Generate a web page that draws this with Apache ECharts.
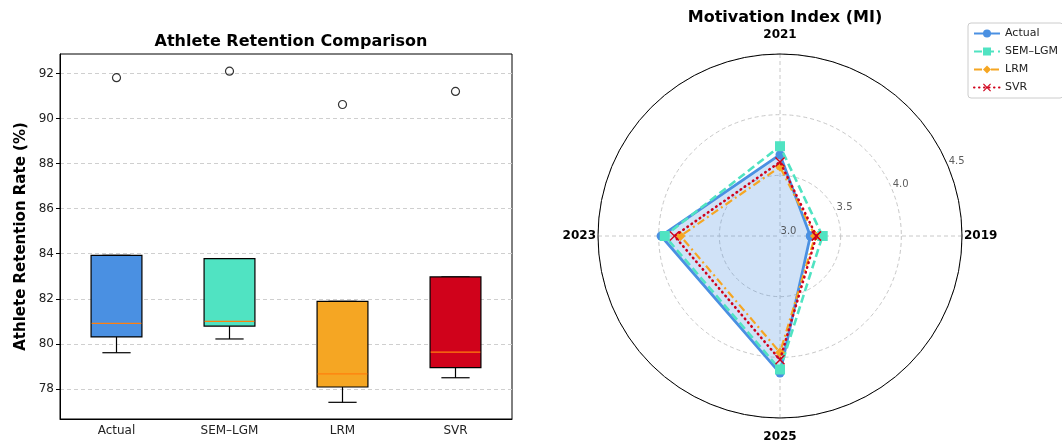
<!DOCTYPE html>
<html>
<head>
<meta charset="utf-8">
<script src="https://cdn.jsdelivr.net/npm/echarts@6/dist/echarts.min.js"></script>
<style>html,body{margin:0;padding:0;background:#fff;}#c{width:1062px;height:445px;}</style>
</head>
<body>
<div id="c"></div>
<script>
// ---- Box plot data (Athlete Retention Rate %) ----
const categories = ['Actual', 'SEM–LGM', 'LRM', 'SVR'];
const whiskerLow = [79.61, 80.22, 77.41, 78.50];
const q1 = [80.31, 80.79, 78.09, 78.95];
const median = [80.91, 81.00, 78.67, 79.64];
const q3 = [83.93, 83.78, 81.89, 82.97];
const whiskerHigh = [83.93, 83.78, 81.89, 82.97];
const outliers = [91.81, 92.10, 90.62, 91.20];
const yTicks = [78, 80, 82, 84, 86, 88, 90, 92];

// ---- Radar data (Motivation Index) ----
const years = ['2019', '2021', '2023', '2025'];
const actualMI = [3.25, 3.67, 3.98, 4.13];
const semMI = [3.35, 3.74, 3.95, 4.10];
const lrmMI = [3.29, 3.57, 3.82, 3.96];
const svrMI = [3.30, 3.61, 3.87, 4.02];
const rTicks = [3.0, 3.5, 4.0, 4.5];
const rTickLabels = ['3.0', '3.5', '4.0', '4.5'];

const boxColors = ['#4a90e2', '#50e3c2', '#f5a623', '#d0021b'];
const FONT = 'DejaVu Sans';
const STEP = 360 / years.length;

const chart = echarts.init(document.getElementById('c'), null, {renderer: 'canvas'});

const boxData = categories.map((c, i) => [i, whiskerLow[i], q1[i], median[i], q3[i], whiskerHigh[i]]);
const outlierData = categories.map((c, i) => [i, outliers[i]]);

function closed(arr) {
  const pts = arr.map((v, i) => [v, i * STEP]);
  pts.push([arr[0], 360]);
  return pts;
}

const xSymbol = 'path://M1,0 L5,4 L9,0 L10,1 L6,5 L10,9 L9,10 L5,6 L1,10 L0,9 L4,5 L0,1 Z';

const option = {
  animation: false,
  backgroundColor: '#fff',
  textStyle: {fontFamily: FONT},
  title: [
    {text: 'Athlete Retention Comparison', left: 286, top: 29, textAlign: 'center',
     textStyle: {fontFamily: FONT, fontSize: 16, fontWeight: 'bold', color: '#000'}},
    {text: 'Motivation Index (MI)', left: 780, top: 5, textAlign: 'center',
     textStyle: {fontFamily: FONT, fontSize: 16, fontWeight: 'bold', color: '#000'}}
  ],
  grid: {left: 60, top: 54, width: 452, height: 365, show: true, borderColor: '#000', borderWidth: 1, containLabel: false},
  xAxis: {
    type: 'category', data: categories, boundaryGap: true,
    axisLine: {lineStyle: {color: '#000', width: 1}},
    axisTick: {alignWithLabel: true, length: 4, lineStyle: {color: '#000'}},
    axisLabel: {fontFamily: FONT, fontSize: 12, color: '#222', margin: 6},
    splitLine: {show: false}
  },
  yAxis: {
    type: 'value', min: 76.67, max: 92.86, splitNumber: 8, minInterval: 2, maxInterval: 2,
    name: 'Athlete Retention Rate (%)', nameLocation: 'middle', nameGap: 31,
    nameTextStyle: {fontFamily: FONT, fontSize: 15, fontWeight: 'bold', color: '#000'},
    axisLine: {show: true, lineStyle: {color: '#000', width: 1}},
    axisTick: {show: true, length: 4, customValues: yTicks, lineStyle: {color: '#000'}},
    axisLabel: {fontFamily: FONT, fontSize: 12, color: '#222', margin: 6, customValues: yTicks},
    splitLine: {show: true, lineStyle: {type: [4, 3], color: '#cfcfcf', width: 1}}
  },
  polar: [
    {center: [780, 236], radius: 182},
    {center: [780, 236], radius: 182}
  ],
  angleAxis: [
    {polarIndex: 0, type: 'value', min: 0, max: 360, interval: STEP, startAngle: 0, clockwise: false,
     axisLine: {show: true, lineStyle: {color: '#000', width: 1}},
     axisTick: {show: false},
     axisLabel: {
       margin: 2,
       formatter: function (v) {
         const i = Math.round(v / STEP);
         if (i >= years.length) return '';
         return (i % 2 === 1) ? '{tb|' + years[i] + '}' : '{lr|' + years[i] + '}';
       },
       rich: {
         lr: {fontFamily: FONT, fontSize: 12, fontWeight: 'bold', color: '#000'},
         tb: {fontFamily: FONT, fontSize: 12, fontWeight: 'bold', color: '#000', padding: [11, 0, 11, 0]}
       }
     },
     splitLine: {show: true, lineStyle: {type: [4, 3], color: '#c8c8c8', width: 1}}},
    {polarIndex: 1, type: 'value', min: 0, max: 360, startAngle: 0, clockwise: false, show: false}
  ],
  radiusAxis: [
    {polarIndex: 0, type: 'value', min: 3, max: 4.5, interval: 0.5,
     axisLine: {show: false}, axisTick: {show: false}, axisLabel: {show: false},
     splitLine: {show: true, lineStyle: {type: [4, 3], color: '#c8c8c8', width: 1}}},
    {polarIndex: 1, type: 'value', min: 3, max: 4.5, show: false}
  ],
  legend: {
    data: ['Actual', 'SEM–LGM', 'LRM', 'SVR'],
    orient: 'vertical', left: 968, top: 23,
    itemWidth: 26, itemHeight: 10, itemGap: 5,
    padding: [4, 5, 4, 5],
    backgroundColor: '#fff', borderColor: '#cccccc', borderWidth: 1, borderRadius: 3,
    textStyle: {fontFamily: FONT, fontSize: 11, color: '#222', lineHeight: 13}
  },
  series: [
    {
      name: 'Retention', type: 'custom', xAxisIndex: 0, yAxisIndex: 0,
      encode: {x: 0, y: [1, 2, 3, 4, 5]},
      data: boxData,
      z: 3,
      renderItem: function (params, api) {
        const i = api.value(0);
        const pLow = api.coord([i, api.value(1)]);
        const pQ1 = api.coord([i, api.value(2)]);
        const pMed = api.coord([i, api.value(3)]);
        const pQ3 = api.coord([i, api.value(4)]);
        const pHigh = api.coord([i, api.value(5)]);
        const band = api.size([1, 0])[0];
        const bw = band * 0.45, cw = band * 0.25;
        const cx = pQ1[0];
        const ls = {stroke: '#000', lineWidth: 1.2};
        return {type: 'group', children: [
          {type: 'line', shape: {x1: cx, y1: pQ1[1], x2: cx, y2: pLow[1]}, style: ls},
          {type: 'line', shape: {x1: cx, y1: pQ3[1], x2: cx, y2: pHigh[1]}, style: ls},
          {type: 'line', shape: {x1: cx - cw / 2, y1: pLow[1], x2: cx + cw / 2, y2: pLow[1]}, style: ls},
          {type: 'line', shape: {x1: cx - cw / 2, y1: pHigh[1], x2: cx + cw / 2, y2: pHigh[1]}, style: ls},
          {type: 'rect', shape: {x: cx - bw / 2, y: pQ3[1], width: bw, height: pQ1[1] - pQ3[1]},
           style: {fill: boxColors[params.dataIndex], stroke: '#000', lineWidth: 1.2}},
          {type: 'line', shape: {x1: cx - bw / 2 + 0.6, y1: pMed[1], x2: cx + bw / 2 - 0.6, y2: pMed[1]},
           style: {stroke: '#ff7f0e', lineWidth: 1.2}}
        ]};
      }
    },
    {
      name: 'Outliers', type: 'scatter', xAxisIndex: 0, yAxisIndex: 0,
      data: outlierData, symbol: 'circle', symbolSize: 8, z: 4,
      itemStyle: {color: 'rgba(255,255,255,0)', borderColor: '#000', borderWidth: 1.2}
    },
    {
      name: 'Actual', type: 'line', coordinateSystem: 'polar', polarIndex: 0,
      data: closed(actualMI), symbol: 'circle', symbolSize: 9, z: 3,
      lineStyle: {color: '#4a90e2', width: 2.8},
      itemStyle: {color: '#4a90e2'},
      areaStyle: {color: 'rgba(74,144,226,0.26)', opacity: 1}
    },
    {
      name: 'SEM–LGM', type: 'line', coordinateSystem: 'polar', polarIndex: 0,
      data: closed(semMI), symbol: 'rect', symbolSize: 10, z: 4,
      lineStyle: {color: '#50e3c2', width: 2.6, type: [8, 4]},
      itemStyle: {color: '#50e3c2'}
    },
    {
      name: 'LRM', type: 'line', coordinateSystem: 'polar', polarIndex: 0,
      data: closed(lrmMI), symbol: 'diamond', symbolSize: 10, z: 5,
      lineStyle: {color: '#f5a623', width: 2.2, type: [8, 3.5, 2, 3.5]},
      itemStyle: {color: '#f5a623'}
    },
    {
      name: 'SVR', type: 'line', coordinateSystem: 'polar', polarIndex: 0,
      data: closed(svrMI), symbol: xSymbol, symbolSize: 10, z: 6,
      lineStyle: {color: '#d0021b', width: 2.6, type: [0.5, 4.5], cap: 'round'},
      itemStyle: {color: '#d0021b'}
    },
    {
      name: 'rlabels', type: 'scatter', coordinateSystem: 'polar', polarIndex: 1,
      data: rTicks.map(v => [v, 22.5]), symbolSize: 1, silent: true, z: 10,
      itemStyle: {color: 'rgba(0,0,0,0)'},
      label: {show: true, position: 'inside', offset: [8.5, -5],
        formatter: p => rTickLabels[p.dataIndex],
        fontFamily: FONT, fontSize: 10, color: '#333'}
    }
  ]
};
chart.setOption(option);
</script>
</body>
</html>
